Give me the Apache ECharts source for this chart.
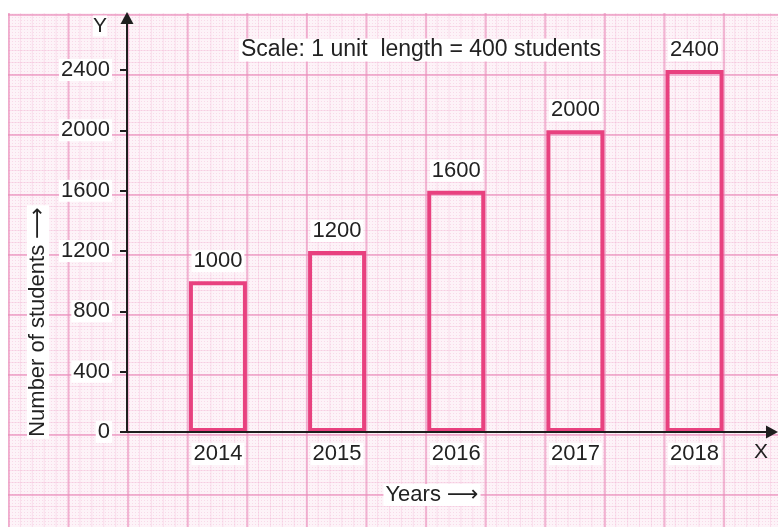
<!DOCTYPE html>
<html>
<head>
<meta charset="utf-8">
<script src="https://cdn.jsdelivr.net/npm/echarts@6/dist/echarts.min.js"></script>
<style>
html,body{margin:0;padding:0;background:#fff;}
#wrap{position:relative;width:778px;height:527px;overflow:hidden;background:#fff;}
#paper{position:absolute;left:8px;top:13px;right:0;bottom:0;
 background-color:#fdf3f8;
 background-image:
  linear-gradient(to right, rgba(234,140,186,0.6) 2px, transparent 2px),
  linear-gradient(to bottom, rgba(234,140,186,0.6) 2px, transparent 2px),
  linear-gradient(to right, rgba(240,170,205,0.3) 1px, transparent 1px),
  linear-gradient(to bottom, rgba(240,170,205,0.3) 1px, transparent 1px),
  radial-gradient(circle, rgba(236,160,198,0.3) 0.8px, transparent 1px);
 background-size:59.6px 60px,59.6px 60px,11.92px 12px,11.92px 12px,3px 3px;
 background-position:0 0,0 1px,0 0,0 1px,0 0;}
#chart{position:absolute;left:0;top:0;width:778px;height:527px;}
</style>
</head>
<body>
<div id="wrap"><div id="paper"></div><div id="chart"></div></div>
<script>
var years = ['2014', '2015', '2016', '2017', '2018'];
var students = [1000, 1200, 1600, 2000, 2400];
var yTicks = [0, 400, 800, 1200, 1600, 2000, 2400];
var scaleNote = 'Scale: 1 unit  length = 400 students';
var yName = 'Number of students \u27F6';
var xName = 'Years \u27F6';

var chart = echarts.init(document.getElementById('chart'), null, {renderer: 'canvas'});
var font = '"Liberation Sans", Arial, "DejaVu Sans", sans-serif';
var txt = '#222';
var pink = '#e8417f';
var yearNums = years.map(Number);

chart.setOption({
  backgroundColor: 'transparent',
  animation: false,
  grid: {left: 127, right: 6, top: 18, bottom: 95, containLabel: false},
  xAxis: {
    type: 'value',
    min: 2013.237, max: 2018.65,
    z: 5,
    axisLine: {show: true, lineStyle: {color: '#1e1e1e', width: 2},
      symbol: ['none', 'triangle'], symbolSize: [13, 12]},
    axisTick: {show: false},
    splitLine: {show: false},
    axisLabel: {
      customValues: yearNums,
      formatter: function (v) { return String(Math.round(v)); },
      color: txt, fontSize: 22, fontFamily: font, margin: 11,
      backgroundColor: '#fff', padding: [0, 2, 0, 2]
    }
  },
  yAxis: {
    type: 'value',
    min: 0, max: 2745,
    z: 5,
    axisLine: {show: true, lineStyle: {color: '#1e1e1e', width: 2},
      symbol: ['none', 'triangle'], symbolSize: [13, 12]},
    axisTick: {show: true, customValues: yTicks, length: 7, inside: false,
      lineStyle: {color: '#1e1e1e', width: 2}},
    splitLine: {show: false},
    axisLabel: {
      customValues: yTicks,
      formatter: function (v) { return String(v); },
      color: txt, fontSize: 22, fontFamily: font, margin: 15,
      backgroundColor: '#fff', padding: [0, 2, 0, 2]
    }
  },
  series: [{
    type: 'bar',
    data: years.map(function (y, i) { return [Number(y), students[i]]; }),
    barWidth: 58,
    itemStyle: {color: 'transparent', borderColor: pink, borderWidth: 4},
    label: {
      show: true, position: 'top', distance: 9,
      color: txt, fontSize: 22, fontFamily: font,
      backgroundColor: '#fff', padding: [0, 2, 0, 2],
      formatter: function (p) { return String(p.value[1]); }
    }
  }],
  graphic: [
    {type: 'text', x: 100, y: 26,
      style: {text: 'Y', fontSize: 21, fontFamily: font, fill: txt, align: 'center', verticalAlign: 'middle', backgroundColor: '#fff'}},
    {type: 'text', x: 761, y: 452,
      style: {text: 'X', fontSize: 21, fontFamily: font, fill: txt, align: 'center', verticalAlign: 'middle'}},
    {type: 'text', x: 421, y: 50,
      style: {text: scaleNote, fontSize: 23, fontFamily: font, fill: txt,
        align: 'center', verticalAlign: 'middle', backgroundColor: '#fff', padding: [0, 2]}},
    {type: 'text', x: 432, y: 495,
      style: {text: xName, fontSize: 22, fontFamily: font, fill: txt,
        align: 'center', verticalAlign: 'middle', backgroundColor: '#fff', padding: [0, 2]}},
    {type: 'text', x: 38, y: 322, rotation: Math.PI / 2,
      style: {text: yName, fontSize: 22, fontFamily: font, fill: txt,
        align: 'center', verticalAlign: 'middle', backgroundColor: '#fff', padding: [0, 2]}}
  ]
});
</script>
</body>
</html>
